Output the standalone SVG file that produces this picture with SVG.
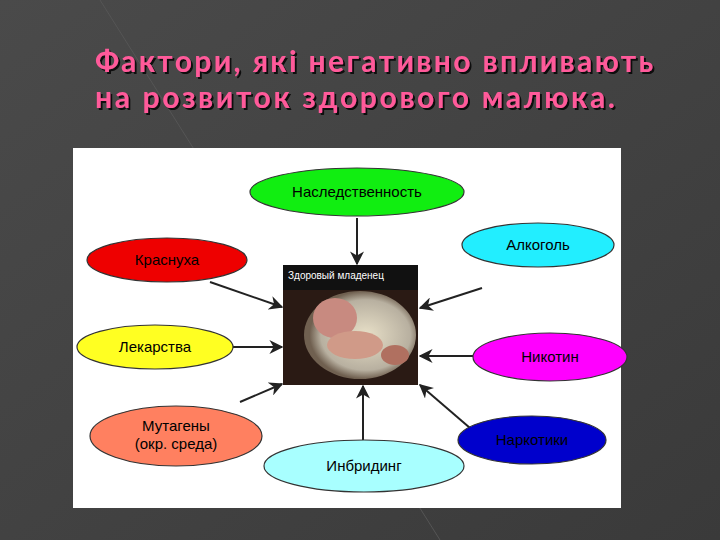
<svg xmlns="http://www.w3.org/2000/svg" width="720" height="540" viewBox="0 0 720 540">
<defs>
<linearGradient id="bg" x1="0" y1="0" x2="1" y2="1"><stop offset="0" stop-color="#4a4a4a"/><stop offset="1" stop-color="#3a3a3a"/></linearGradient>
<radialGradient id="glow" cx="0.55" cy="0.5" r="0.5"><stop offset="0" stop-color="#e8e0c8"/><stop offset="0.8" stop-color="#b8b0a0"/><stop offset="1" stop-color="#706050"/></radialGradient>
<marker id="ah" viewBox="0 0 10 10" refX="9" refY="5" markerWidth="7" markerHeight="7" orient="auto"><path d="M0,0 L10,5 L0,10 L3,5 z" fill="#222"/></marker>
<filter id="sh"><feDropShadow dx="2" dy="2" stdDeviation="0.5" flood-color="#000" flood-opacity="0.8"/></filter>
</defs>
<style>
.t{font-family:"Liberation Sans",Arial,sans-serif;font-size:15px;fill:#000;text-anchor:middle}
.e{stroke:#333;stroke-width:1.2}
.c{stroke:#222;stroke-width:2;fill:none;marker-end:url(#ah)}
</style>
<rect width="720" height="540" fill="url(#bg)"/>
<path d="M100,0 L440,540" stroke="#555" stroke-width="1"/>
<g filter="url(#sh)" font-family="Lato,'Noto Sans',sans-serif" font-size="30" font-weight="bold" fill="#ff5a9a" letter-spacing="2">
<text x="95" y="72" textLength="560">Фактори, які негативно впливають</text>
<text x="95" y="108" textLength="522">на розвиток здорового малюка.</text>
</g>
<rect x="73" y="148" width="548" height="360" fill="#fff"/>
<g id="connectors">
<line class="c" x1="357" y1="218" x2="357" y2="264"/>
<line class="c" x1="210" y1="282" x2="282" y2="307"/>
<line class="c" x1="482" y1="288" x2="420" y2="308"/>
<line class="c" x1="233" y1="347" x2="282" y2="347"/>
<line class="c" x1="473" y1="356" x2="420" y2="356"/>
<line class="c" x1="240" y1="402" x2="282" y2="384"/>
<line class="c" x1="470" y1="428" x2="420" y2="385"/>
<line class="c" x1="363" y1="440" x2="363" y2="386"/>
</g>
<g id="center">
<rect x="283" y="265" width="135" height="120" fill="#111"/>
<text x="288" y="279" font-family="'Liberation Sans',Arial,sans-serif" font-size="10" fill="#fff">Здоровый младенец</text>
<rect x="283" y="290" width="135" height="95" fill="#2a1a14"/>
<ellipse cx="360" cy="335" rx="56" ry="44" fill="url(#glow)"/>
<ellipse cx="335" cy="318" rx="22" ry="20" fill="#c88a80"/>
<ellipse cx="355" cy="345" rx="28" ry="14" fill="#d09a88"/>
<ellipse cx="395" cy="355" rx="14" ry="10" fill="#b07060"/>
</g>
<g id="n1"><ellipse class="e" cx="357" cy="192" rx="107" ry="24" fill="#11ee11"/><text class="t" x="357" y="197">Наследственность</text></g>
<g id="n2"><ellipse class="e" cx="167" cy="260" rx="80" ry="22" fill="#ee0000"/><text class="t" x="167" y="265">Краснуха</text></g>
<g id="n3"><ellipse class="e" cx="538" cy="245" rx="76" ry="22" fill="#22eeff"/><text class="t" x="538" y="250">Алкоголь</text></g>
<g id="n4"><ellipse class="e" cx="155" cy="347" rx="78" ry="22" fill="#ffff22"/><text class="t" x="155" y="352">Лекарства</text></g>
<g id="n5"><ellipse class="e" cx="550" cy="357" rx="77" ry="24" fill="#ff00ff"/><text class="t" x="550" y="362">Никотин</text></g>
<g id="n6"><ellipse class="e" cx="176" cy="436" rx="86" ry="30" fill="#ff8060"/><text class="t" x="176" y="431" font-size="13">Мутагены</text><text class="t" x="176" y="449" font-size="13">(окр. среда)</text></g>
<g id="n7"><ellipse class="e" cx="532" cy="440" rx="74" ry="24" fill="#0000cc"/><text class="t" x="532" y="445">Наркотики</text></g>
<g id="n8"><ellipse class="e" cx="364" cy="466" rx="100" ry="26" fill="#a8ffff"/><text class="t" x="364" y="471">Инбридинг</text></g>
</svg>
